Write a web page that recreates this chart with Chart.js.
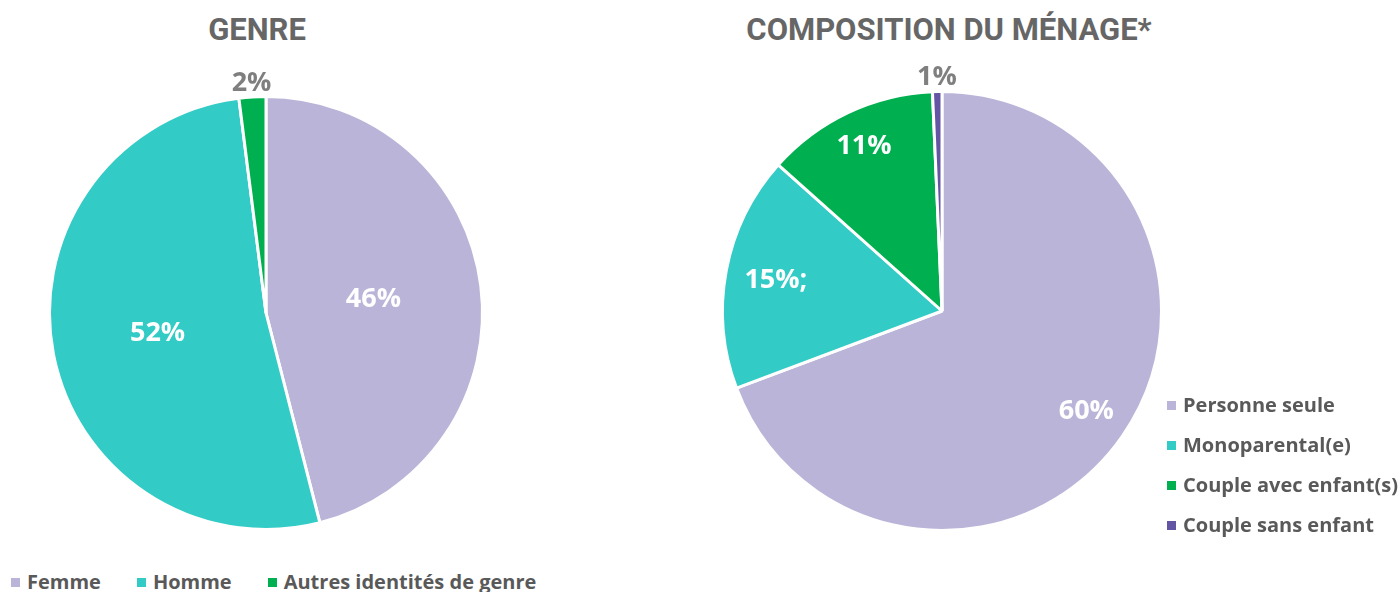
<!DOCTYPE html>
<html>
<head>
<meta charset="utf-8">
<script src="https://cdn.jsdelivr.net/npm/chart.js@4/dist/chart.umd.min.js"></script>
<style>
  body { margin: 0; background: #fff; width: 1400px; height: 592px; position: relative; overflow: hidden; font-family: "Open Sans", sans-serif; }
  .title { position: absolute; font-family: Roboto, sans-serif; font-weight: bold; font-size: 31px; color: #666; white-space: nowrap; transform: translateX(-50%); }
  canvas { position: absolute; }
  .legend { position: absolute; font-weight: bold; font-size: 20px; line-height: 27px; color: #595959; white-space: nowrap; }
  .legend span.sq { display: inline-block; width: 9px; height: 9px; margin-right: 7px; vertical-align: 2px; }
  .legend div { display: inline-block; }
</style>
</head>
<body>
<div class="title" style="left:257px;top:11px;">GENRE</div>
<div class="title" style="left:949px;top:11px;">COMPOSITION DU MÉNAGE*</div>
<canvas id="chartGenre"></canvas>
<canvas id="chartMenage"></canvas>
<div class="legend" id="legGenre" style="left:11px;top:568px;"></div>
<div class="legend" id="legMenage" style="left:1167px;top:391px;"></div>
<script>
'use strict';

const genreLabels = ['Femme', 'Homme', 'Autres identités de genre'];
const genreValues = [46, 52, 2];
const genreText = ['46%', '52%', '2%'];
const genreColors = ['#b9b4d8', '#33cbc5', '#00b050'];

const menageLabels = ['Personne seule', 'Monoparental(e)', 'Couple avec enfant(s)', 'Couple sans enfant'];
const menageValues = [60, 15, 11, 0.6];
const menageText = ['60%', '15%;', '11%', '1%'];
const menageColors = ['#b9b4d8', '#33cbc5', '#00b050', '#6455a4'];

// draws value labels; factor 0 = grey label outside the pie
const sliceLabels = {
  id: 'sliceLabels',
  afterDatasetsDraw(chart, args, opts) {
    const ctx = chart.ctx;
    const meta = chart.getDatasetMeta(0);
    ctx.save();
    ctx.textAlign = 'center';
    ctx.textBaseline = 'middle';
    ctx.font = 'bold 27px "Open Sans"';
    meta.data.forEach((arc, i) => {
      const mid = (arc.startAngle + arc.endAngle) / 2;
      let r = arc.outerRadius * opts.factor[i];
      ctx.fillStyle = '#fff';
      if (!opts.factor[i]) {
        r = arc.outerRadius + 14;
        ctx.fillStyle = '#7f7f7f';
      }
      ctx.fillText(opts.text[i], arc.x + Math.cos(mid) * r, arc.y + Math.sin(mid) * r);
    });
    ctx.restore();
  }
};

function makePie(id, left, top, w, h, pad, labels, values, colors, text, factor) {
  const canvasElem = document.getElementById(id);
  canvasElem.style.left = left + 'px';
  canvasElem.style.top = top + 'px';
  canvasElem.width = w;
  canvasElem.height = h;
  const data = {
    labels: labels,
    datasets: [{
      data: values,
      backgroundColor: colors,
      borderColor: '#fff',
      borderWidth: 3,
    }],
  };
  const config = {
    type: 'pie',
    data: data,
    options: {
      responsive: false,
      animation: false,
      layout: { padding: pad },
      plugins: {
        legend: { display: false },
        tooltip: { enabled: false },
        sliceLabels: { text: text, factor: factor },
      },
    },
    plugins: [sliceLabels],
  };
  return new Chart(canvasElem, config);
}

function makeLegend(id, labels, colors, vertical) {
  const el = document.getElementById(id);
  labels.forEach((lab, i) => {
    const d = document.createElement('div');
    d.innerHTML = '<span class="sq" style="background:' + colors[i] + '"></span>' + lab;
    if (vertical) {
      d.style.display = 'block';
      d.style.marginBottom = '13px';
    } else {
      d.style.marginRight = '36px';
    }
    el.appendChild(d);
  });
}

makePie('chartGenre', 0, 60, 560, 500, { left: 48, top: 35, right: 76, bottom: 29 },
  genreLabels, genreValues, genreColors, genreText, [0.5, 0.51, 0]);
makePie('chartMenage', 620, 60, 560, 500, { left: 101, top: 30, right: 17, bottom: 28 },
  menageLabels, menageValues, menageColors, menageText, [0.8, 0.77, 0.83, 0]);

makeLegend('legGenre', genreLabels, genreColors, false);
makeLegend('legMenage', menageLabels, menageColors, true);
</script>
</body>
</html>
